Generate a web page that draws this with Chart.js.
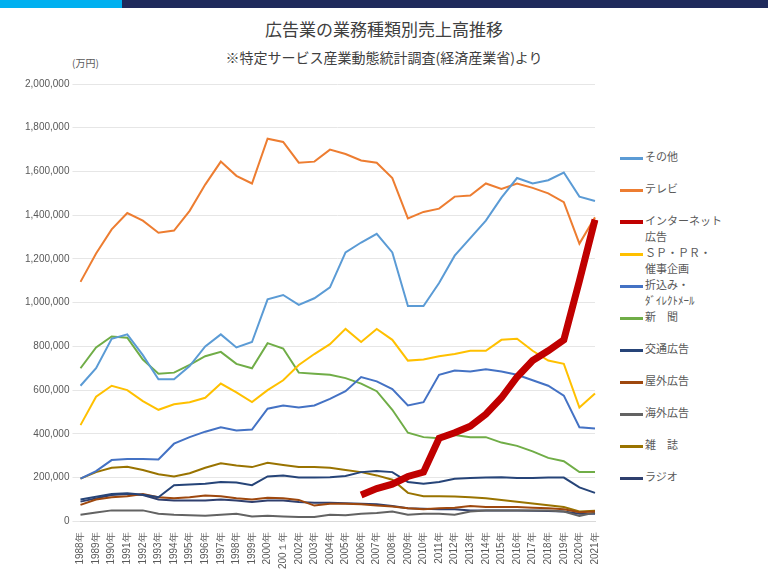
<!DOCTYPE html>
<html><head><meta charset="utf-8">
<script src="https://cdn.jsdelivr.net/npm/chart.js@4/dist/chart.umd.min.js"></script>
<style>
body{margin:0;width:768px;height:576px;position:relative;background:#fff;font-family:"Noto Sans CJK JP",sans-serif;overflow:hidden}
#bar1{position:absolute;left:0;top:0;width:122px;height:8px;background:#00b0f0}
#bar2{position:absolute;left:122px;top:0;width:646px;height:8px;background:#1f2a5c}
#t1{position:absolute;top:16px;left:0;width:768px;text-align:center;font-size:17px;color:#404040}
#t2{position:absolute;top:47px;left:0;width:768px;text-align:center;font-size:14px;color:#404040}
#unit{position:absolute;top:55px;left:72px;font-size:10px;color:#595959}
#wrap{position:absolute;left:0;top:74px;width:610px;height:500px}
#leg{position:absolute;left:620px;top:148px;font-size:11px;color:#595959}
.it{position:absolute;left:0;white-space:nowrap}
.ln{display:inline-block;width:23px;height:3px;vertical-align:middle;margin-right:2px}
.sub{position:absolute;left:25px;white-space:nowrap}
</style></head><body>
<div id="bar1"></div><div id="bar2"></div>
<div id="t1">広告業の業務種類別売上高推移</div>
<div id="t2">※特定サービス産業動態統計調査(経済産業省)より</div>
<div id="unit">(万円)</div>
<div id="wrap"><canvas id="c"></canvas></div>
<div id="leg"></div>
<script>
const years = ["1988年","1989年","1990年","1991年","1992年","1993年","1994年","1995年","1996年","1997年","1998年","1999年","2000年","200１年","2002年","2003年","2004年","2005年","2006年","2007年","2008年","2009年","2010年","2011年","2012年","2013年","2014年","2015年","2016年","2017年","2018年","2019年","2020年","2021年"];

const sonota = [620000,700000,835000,855000,760000,650000,650000,710000,800000,855000,795000,820000,1015000,1035000,990000,1020000,1070000,1230000,1275000,1315000,1230000,985000,985000,1090000,1215000,1295000,1375000,1480000,1570000,1545000,1560000,1595000,1485000,1465000];
const tv = [1095000,1225000,1335000,1410000,1375000,1320000,1330000,1420000,1540000,1645000,1580000,1545000,1750000,1735000,1640000,1645000,1700000,1680000,1650000,1640000,1570000,1385000,1415000,1430000,1485000,1490000,1545000,1520000,1545000,1525000,1500000,1460000,1270000,1390000];
const internet = [null,null,null,null,null,null,null,null,null,null,null,null,null,null,null,null,null,null,120000,150000,170000,205000,225000,380000,405000,435000,490000,565000,660000,735000,780000,830000,1100000,1380000];
const sp = [440000,570000,620000,600000,550000,510000,535000,545000,565000,630000,590000,545000,600000,645000,715000,765000,810000,880000,820000,880000,830000,735000,740000,755000,765000,780000,780000,830000,835000,780000,735000,720000,520000,585000];
const orikomi = [195000,230000,280000,285000,285000,283000,355000,385000,410000,430000,415000,420000,515000,530000,520000,530000,560000,595000,660000,640000,605000,530000,545000,670000,690000,685000,695000,685000,670000,645000,620000,575000,430000,425000];
const shinbun = [700000,795000,845000,840000,740000,675000,680000,715000,755000,775000,720000,700000,815000,790000,680000,675000,670000,655000,630000,595000,510000,405000,385000,380000,395000,385000,385000,360000,345000,320000,290000,275000,225000,225000];
const koutsu = [100000,112000,125000,128000,122000,110000,165000,168000,172000,180000,178000,165000,205000,210000,200000,200000,202000,207000,225000,230000,225000,180000,172000,180000,195000,198000,200000,202000,198000,198000,200000,200000,155000,130000];
const okugai = [75000,100000,110000,115000,125000,110000,105000,110000,118000,115000,105000,100000,108000,105000,98000,72000,80000,80000,78000,72000,68000,60000,55000,60000,62000,70000,65000,65000,65000,62000,60000,55000,42000,45000];
const kaigai = [30000,40000,50000,50000,50000,35000,30000,28000,25000,30000,35000,22000,25000,22000,20000,20000,30000,28000,35000,38000,45000,30000,35000,35000,30000,45000,50000,50000,50000,50000,50000,45000,25000,40000];
const zasshi = [195000,225000,245000,250000,235000,215000,205000,220000,245000,265000,255000,248000,268000,258000,248000,248000,245000,235000,225000,210000,190000,130000,115000,115000,113000,110000,105000,98000,90000,82000,73000,65000,45000,48000];
const radio = [90000,105000,120000,125000,120000,100000,95000,95000,95000,100000,95000,88000,95000,95000,88000,85000,85000,83000,80000,78000,70000,60000,58000,55000,55000,50000,50000,50000,50000,48000,47000,45000,35000,35000];

const series = [
  ["その他", sonota, "#5b9bd5", 2, ""],
  ["テレビ", tv, "#ed7d31", 2, ""],
  ["インターネット", internet, "#c00000", 7, "広告"],
  ["ＳＰ・ＰＲ・", sp, "#ffc000", 2, "催事企画"],
  ["折込み・", orikomi, "#4472c4", 2, "ﾀﾞｲﾚｸﾄﾒｰﾙ"],
  ["新　聞", shinbun, "#70ad47", 2, ""],
  ["交通広告", koutsu, "#264478", 2, ""],
  ["屋外広告", okugai, "#9e480e", 2, ""],
  ["海外広告", kaigai, "#636363", 2, ""],
  ["雑　誌", zasshi, "#997300", 2, ""],
  ["ラジオ", radio, "#2f3f6e", 2, ""]
];

// 凡例（HTML）
const leg = document.getElementById("leg");
series.forEach(([name, , color, w, sub], i) => {
  const d = document.createElement("div");
  d.className = "it";
  d.style.top = (i * 32) + "px";
  d.innerHTML = '<span class="ln" style="background:' + color + ';height:' + (w > 2 ? 4 : 3) + 'px"></span>' + name +
    (sub ? '<div class="sub" style="top:16px">' + sub + '</div>' : '');
  leg.appendChild(d);
});

// 描画順：インターネットを最前面に
const ds = series.map(([name, data, color, w], i) => ({
  label: name, data, borderColor: color, backgroundColor: color,
  borderWidth: w, pointRadius: 0, tension: 0, fill: false,
  order: w > 2 ? 0 : i + 1
}));

new Chart(document.getElementById("c"), {
  type: "line",
  data: { labels: years, datasets: ds },
  options: {
    responsive: true, maintainAspectRatio: false, animation: false,
    layout: { padding: { left: 22, right: 4, top: 10, bottom: 2 } },
    plugins: { legend: { display: false }, tooltip: { enabled: false } },
    scales: {
      x: {
        grid: { display: false },
        border: { color: "#d9d9d9" },
        ticks: { color: "#595959", font: { size: 10 }, maxRotation: 90, minRotation: 90, autoSkip: false }
      },
      y: {
        min: 0, max: 2000000,
        grid: { color: "#e6e6e6" },
        border: { display: false },
        ticks: { stepSize: 200000, color: "#595959", font: { size: 10 },
          callback: v => v.toLocaleString("en-US") }
      }
    }
  }
});
</script>
</body></html>
